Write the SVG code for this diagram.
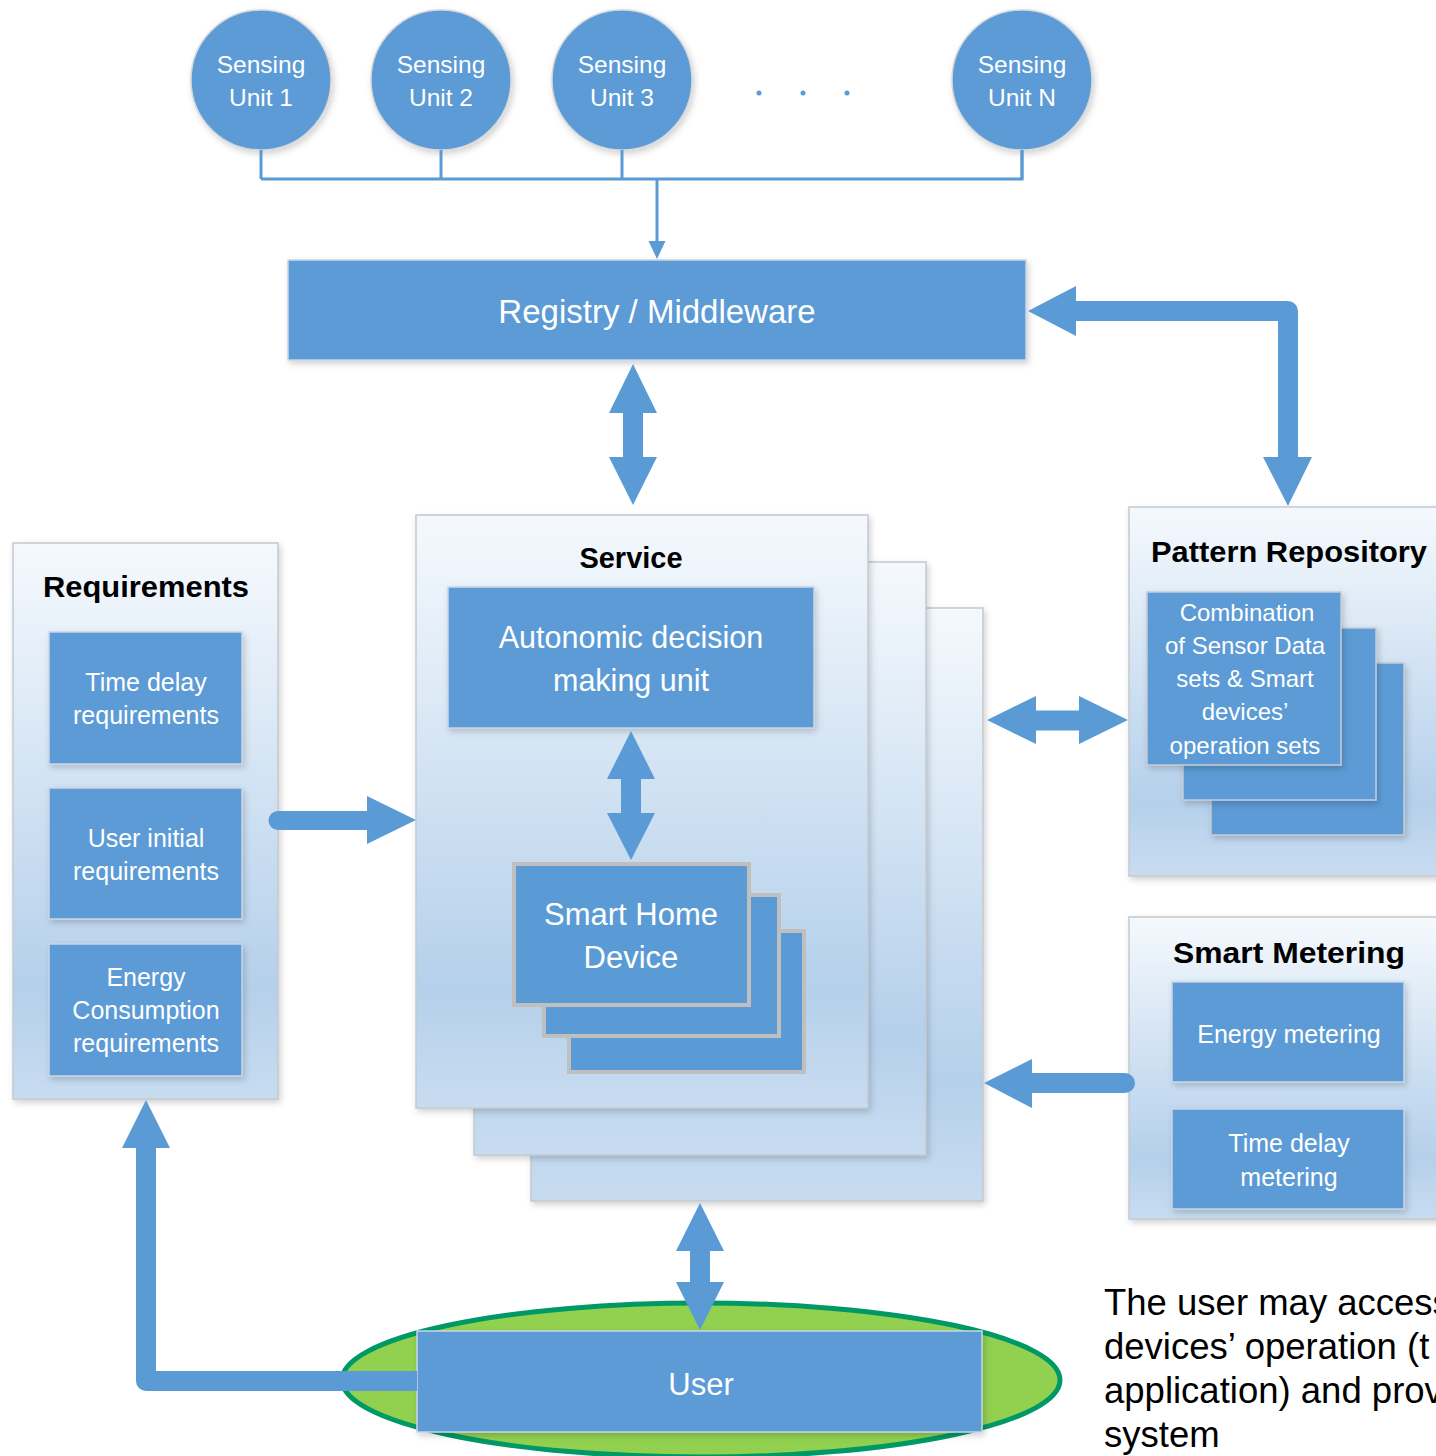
<svg xmlns="http://www.w3.org/2000/svg" width="1436" height="1456" viewBox="0 0 1436 1456">
<defs>
<linearGradient id="pg" x1="0" y1="0" x2="0" y2="1">
<stop offset="0" stop-color="#F5F9FD"/>
<stop offset="0.8" stop-color="#B5D0EB"/>
<stop offset="1" stop-color="#C8DCF0"/>
</linearGradient>
<filter id="sh" x="-10%" y="-10%" width="125%" height="125%">
<feDropShadow dx="2" dy="3" stdDeviation="3" flood-color="#000" flood-opacity="0.18"/>
</filter>
<style>
.blue{fill:#5B9BD5;}
.bx{fill:#5B9BD5;stroke:#C7D6E8;stroke-width:1.5;filter:url(#sh);}
.pn{fill:url(#pg);stroke:#C4C9CF;stroke-width:1.5;filter:url(#sh);}
.sd{fill:#5B9BD5;stroke:#BFBFBF;stroke-width:4;}
.pr{fill:#5B9BD5;stroke:#C6CCD3;stroke-width:1.5;}
.wt{font-family:"Liberation Sans",Arial,sans-serif;fill:#FFFFFF;text-anchor:middle;}
.tt{font-family:"Liberation Sans",Arial,sans-serif;fill:#000000;text-anchor:middle;font-weight:bold;}
.ln{stroke:#5B9BD5;stroke-width:3;fill:none;}
.ar{fill:#5B9BD5;}
</style>
</defs>
<rect width="1436" height="1456" fill="#FFFFFF"/>

<g id="sensing-unit-1">
<circle cx="261" cy="80" r="70" fill="#5B9BD5" stroke="#D3D6DA" stroke-width="1.5" filter="url(#sh)"/>
<text class="wt" x="261" y="73" font-size="24.5">Sensing</text>
<text class="wt" x="261" y="106" font-size="24.5">Unit 1</text>
</g>
<g id="sensing-unit-2">
<circle cx="441" cy="80" r="70" fill="#5B9BD5" stroke="#D3D6DA" stroke-width="1.5" filter="url(#sh)"/>
<text class="wt" x="441" y="73" font-size="24.5">Sensing</text>
<text class="wt" x="441" y="106" font-size="24.5">Unit 2</text>
</g>
<g id="sensing-unit-3">
<circle cx="622" cy="80" r="70" fill="#5B9BD5" stroke="#D3D6DA" stroke-width="1.5" filter="url(#sh)"/>
<text class="wt" x="622" y="73" font-size="24.5">Sensing</text>
<text class="wt" x="622" y="106" font-size="24.5">Unit 3</text>
</g>
<g id="ellipsis">
<circle cx="759" cy="93" r="2.5" class="blue"/>
<circle cx="803" cy="93" r="2.5" class="blue"/>
<circle cx="847" cy="93" r="2.5" class="blue"/>
</g>
<g id="sensing-unit-n">
<circle cx="1022" cy="80" r="70" fill="#5B9BD5" stroke="#D3D6DA" stroke-width="1.5" filter="url(#sh)"/>
<text class="wt" x="1022" y="73" font-size="24.5">Sensing</text>
<text class="wt" x="1022" y="106" font-size="24.5">Unit N</text>
</g>

<g id="registry">
<rect class="bx" x="288" y="260" width="738" height="100"/>
<text class="wt" x="657" y="323" font-size="33">Registry / Middleware</text>
</g>

<g id="service">
<rect class="pn" x="531" y="608" width="452" height="593"/>
<rect class="pn" x="474" y="562" width="452" height="593"/>
<rect class="pn" x="416" y="515" width="452" height="593"/>
<text class="tt" x="631" y="568" font-size="29">Service</text>
</g>
<g id="autonomic-unit">
<rect class="bx" x="448" y="587" width="366" height="141"/>
<text class="wt" x="631" y="648" font-size="30.5">Autonomic decision</text>
<text class="wt" x="631" y="691" font-size="30.5">making unit</text>
</g>
<g id="smart-home-device">
<rect class="sd" x="569" y="931" width="235" height="141"/>
<rect class="sd" x="544" y="895" width="235" height="141"/>
<rect class="sd" x="514" y="864" width="235" height="141"/>
<text class="wt" x="631" y="925" font-size="31">Smart Home</text>
<text class="wt" x="631" y="968" font-size="31">Device</text>
</g>

<g id="requirements">
<rect class="pn" x="13" y="543" width="265" height="556"/>
<text class="tt" x="146" y="597" font-size="29" textLength="206" lengthAdjust="spacingAndGlyphs">Requirements</text>
<rect class="bx" x="49" y="632" width="193" height="132"/>
<text class="wt" x="146" y="691" font-size="25">Time delay</text>
<text class="wt" x="146" y="724" font-size="25">requirements</text>
<rect class="bx" x="49" y="788" width="193" height="131"/>
<text class="wt" x="146" y="847" font-size="25">User initial</text>
<text class="wt" x="146" y="880" font-size="25">requirements</text>
<rect class="bx" x="49" y="944" width="193" height="132"/>
<text class="wt" x="146" y="986" font-size="25">Energy</text>
<text class="wt" x="146" y="1019" font-size="25">Consumption</text>
<text class="wt" x="146" y="1052" font-size="25">requirements</text>
</g>

<g id="pattern-repository">
<rect class="pn" x="1129" y="507" width="320" height="369"/>
<text class="tt" x="1289" y="562" font-size="29" textLength="276" lengthAdjust="spacingAndGlyphs">Pattern Repository</text>
<rect class="pr" x="1211" y="663" width="193" height="172" filter="url(#sh)"/>
<rect class="pr" x="1183" y="628" width="193" height="172" filter="url(#sh)"/>
<rect class="pr" x="1147" y="592" width="194" height="173" filter="url(#sh)"/>
<text class="wt" x="1247" y="621" font-size="24">Combination</text>
<text class="wt" x="1245" y="654" font-size="24">of Sensor Data</text>
<text class="wt" x="1245" y="687" font-size="24">sets &amp; Smart</text>
<text class="wt" x="1245" y="720" font-size="24">devices’</text>
<text class="wt" x="1245" y="754" font-size="24">operation sets</text>
</g>

<g id="smart-metering">
<rect class="pn" x="1129" y="917" width="320" height="302"/>
<text class="tt" x="1289" y="963" font-size="29" textLength="232" lengthAdjust="spacingAndGlyphs">Smart Metering</text>
<rect class="bx" x="1172" y="982" width="232" height="100"/>
<text class="wt" x="1289" y="1043" font-size="25">Energy metering</text>
<rect class="bx" x="1172" y="1109" width="232" height="100"/>
<text class="wt" x="1289" y="1152" font-size="25">Time delay</text>
<text class="wt" x="1289" y="1186" font-size="25">metering</text>
</g>

<g id="user">
<ellipse cx="701" cy="1380" rx="359" ry="77" fill="#92D050" stroke="#009966" stroke-width="5"/>
<rect class="bx" x="417" y="1331" width="565" height="101"/>
<text class="wt" x="701" y="1395" font-size="31">User</text>
</g>

<g id="connectors">
<line class="ln" x1="261" y1="150" x2="261" y2="179"/>
<line class="ln" x1="441" y1="150" x2="441" y2="179"/>
<line class="ln" x1="622" y1="150" x2="622" y2="179"/>
<line class="ln" x1="1022" y1="150" x2="1022" y2="179"/>
<polyline class="ln" points="261,179 1022,179 1022,150"/>
<line class="ln" x1="657" y1="179" x2="657" y2="243"/>
<polygon class="ar" points="648.5,241 665.5,241 657,259"/>
<polygon class="ar" points="633,364 657,413 643,413 643,457 657,457 633,505 609,457 623,457 623,413 609,413"/>
<polygon class="ar" points="631,731 655,779 641,779 641,813 655,813 631,860 607,813 621,813 621,779 607,779"/>
<polygon class="ar" points="700,1203 724,1251 710,1251 710,1282 724,1282 700,1330 676,1282 690,1282 690,1251 676,1251"/>
<polygon class="ar" points="987,720 1036,696 1036,710.5 1079,710.5 1079,696 1128,720 1079,744 1079,730.5 1036,730.5 1036,744"/>
<path class="ar" d="M278 811 H367 V796 L416 820 L367 844 V830 H278 A9.5 9.5 0 0 1 278 811 Z"/>
<path class="ar" d="M984 1083 L1032 1059 V1073 H1125 A10 10 0 0 1 1125 1093 H1032 V1108 Z"/>
<path class="ar" d="M1028 311 L1076 286 V301 H1288 A10 10 0 0 1 1298 311 V457 H1312 L1288 506 L1263 457 H1278 V321 H1076 V336 Z"/>
<path class="ar" d="M417 1371 H156 V1148 H170 L146 1100 L122 1148 H136 V1381 A10 10 0 0 0 146 1391 H417 Z"/>
</g>

<g id="note" font-family="'Liberation Sans',Arial,sans-serif" font-size="36.5" fill="#000000">
<text x="1104" y="1315">The user may access</text>
<text x="1104" y="1359">devices’ operation (t</text>
<text x="1104" y="1403">application) and prov</text>
<text x="1104" y="1447">system</text>
</g>
</svg>
